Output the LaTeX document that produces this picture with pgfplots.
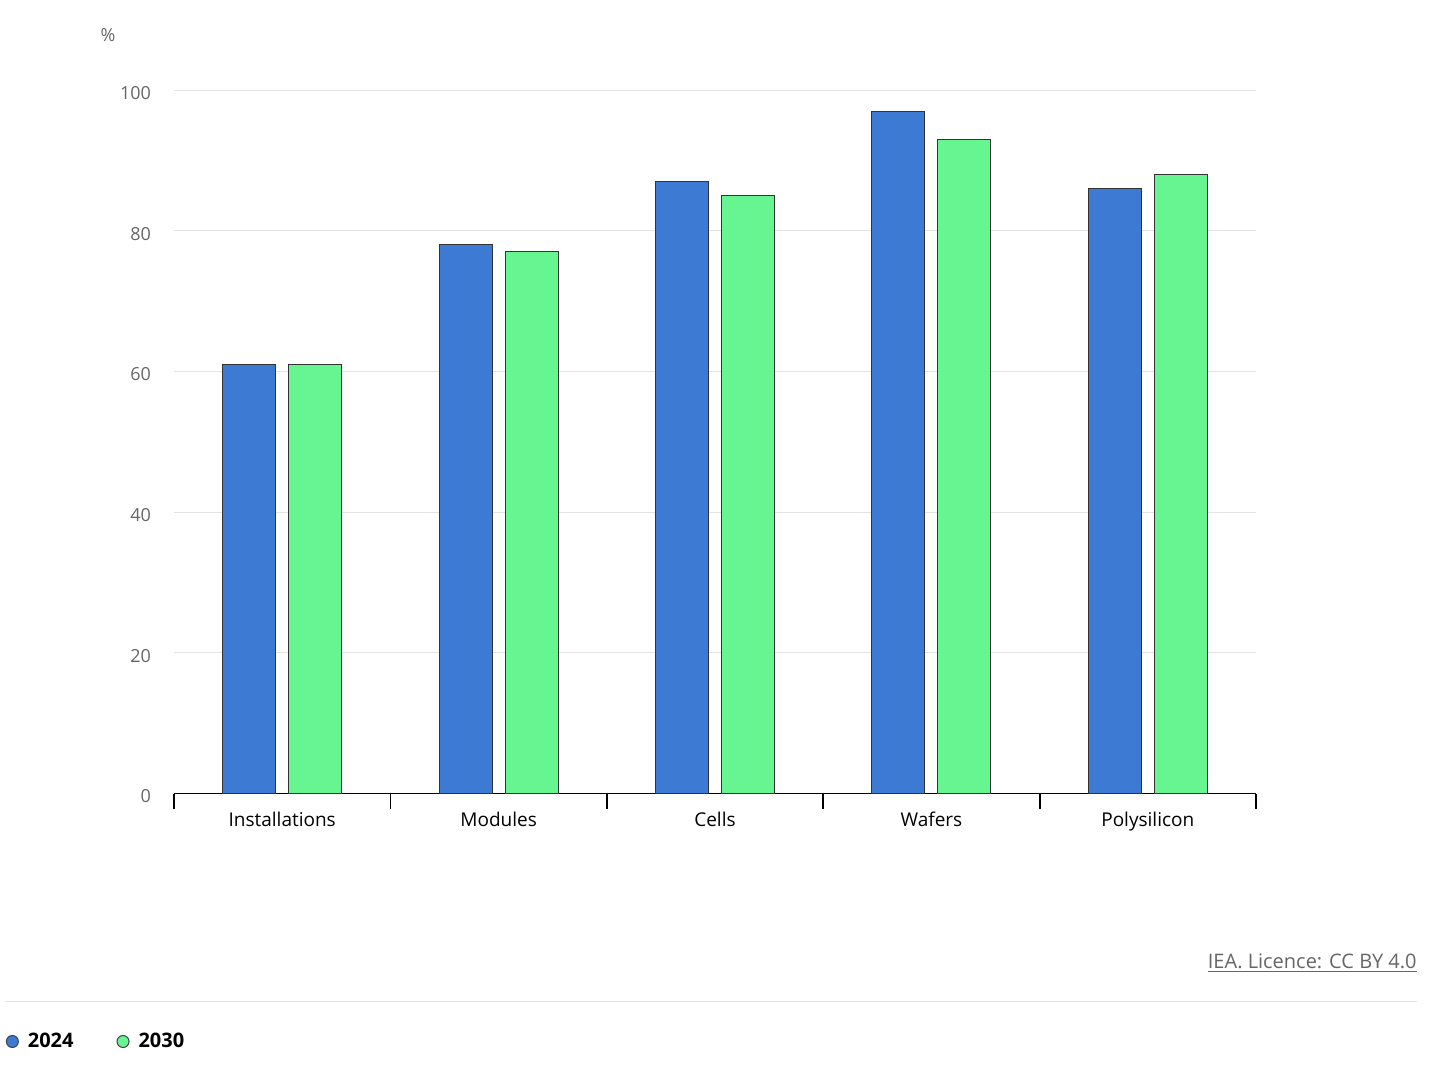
\documentclass[border=0pt]{standalone}
\usepackage{pgfplots}
\pgfplotsset{compat=1.18}
\usepackage{fontspec}
\setmainfont{Open Sans}
\definecolor{c24}{HTML}{3D7AD4}
\definecolor{c30}{HTML}{66F590}
\definecolor{gridc}{HTML}{E3E3E3}
\definecolor{tickgray}{HTML}{666666}
\begin{document}
\begin{tikzpicture}[x=0.5pt,y=-0.5pt]
\path[use as bounding box] (0,0) rectangle (1438,1064);
\begin{axis}[
  at={(87pt,-396.75pt)}, anchor=south west,
  width=541pt, height=351.75pt, scale only axis,
  xmin=-0.5, xmax=4.5, ymin=0, ymax=100,
  ybar=6.5pt, bar width=26.5pt,
  xtick={0,...,4},
  xticklabels={Installations,Modules,Cells,Wafers,Polysilicon},
  minor xtick={-0.5,0.5,...,4.5},
  xtick align=outside,
  major tick length=0pt, minor tick length=7.5pt,
  minor x tick style={black, line width=0.9pt},
  major x tick style={draw=none},
  ytick={0,20,...,100},
  ymajorgrids, y grid style={gridc, line width=0.5pt},
  major y tick style={draw=none},
  axis x line*=bottom, axis y line*=left,
  y axis line style={draw=none},
  x axis line style={black, line width=0.9pt, -},
  /pgf/number format/assume math mode=true,
  yticklabel style={font=\fontsize{9}{11}\selectfont, text=tickgray, xshift=-8pt, yshift=-1.5pt},
  xticklabel style={font=\fontsize{9.5}{11}\selectfont, text=black, yshift=-5.5pt},
  legend style={at={(-0.1613,-0.3525)}, anchor=west, draw=none, fill=none,
    legend columns=2, font=\fontsize{10}{12}\selectfont\bfseries,
    /tikz/every even column/.append style={column sep=19.5pt}},
  legend image code/.code={\filldraw[#1,draw=black!75,line width=0.5pt] (3pt,0pt) circle (3pt); \path (8.5pt,0pt);},
]
\addplot[fill=c24, draw=black!80, line width=0.5pt] coordinates {(0,61) (1,78) (2,87) (3,97) (4,86)};
\addplot[fill=c30, draw=black!80, line width=0.5pt] coordinates {(0,61) (1,77) (2,85) (3,93) (4,88)};
\legend{2024,2030}
\end{axis}
\node[text=tickgray, font=\fontsize{9}{11}\selectfont] at (108,35) {\%};
\node[anchor=east, text=tickgray, font=\fontsize{10}{12}\selectfont, inner sep=0pt] at (1417,963) {\underline{IEA. Licence: CC BY 4.0}};
\draw[gridc, line width=0.5pt] (5,1001) -- (1417,1001);
\end{tikzpicture}
\end{document}
